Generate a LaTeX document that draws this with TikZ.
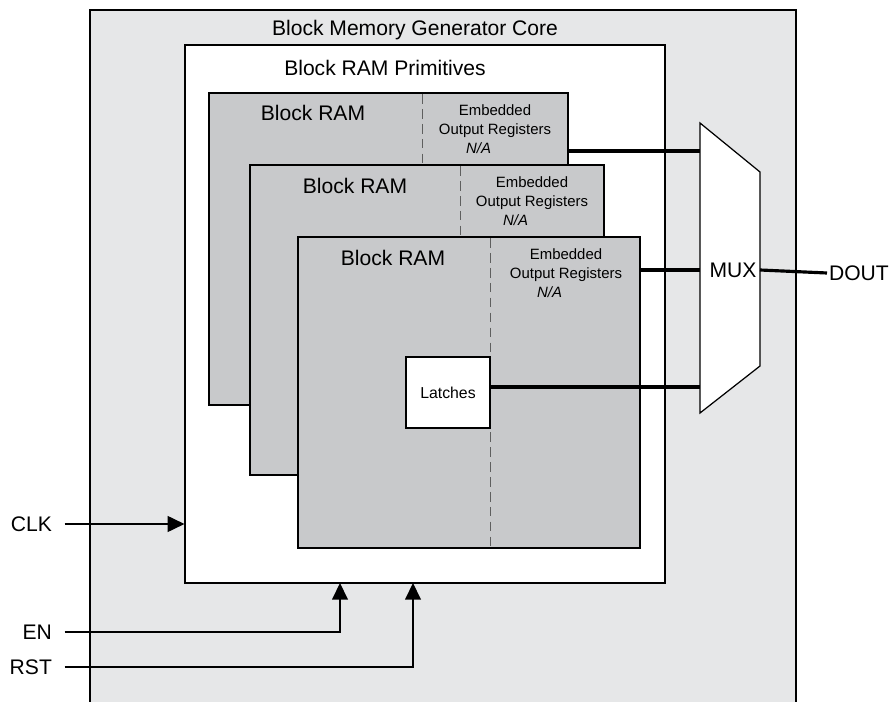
\documentclass[tikz,border=0pt]{standalone}
\usepackage{fontspec}
\setmainfont{Liberation Sans}
\usepackage{tikz}
\usetikzlibrary{
	positioning,
	arrows.meta,
	calc
}
\definecolor{CoreGray}{RGB}{230,231,232}
\definecolor{RamGray}{RGB}{200,201,203}
\definecolor{DashGray}{RGB}{95,95,95}

\begin{document}
\begin{tikzpicture}[
	x=0.02cm,
	y=-0.02cm,
	boxline/.style={
		draw=black,
		line width=0.7pt
	},
	rambox/.style={
		boxline,
		fill=RamGray,
		inner sep=0pt
	},
	splitline/.style={
		draw=DashGray,
		line width=0.5pt,
		dash pattern=on 5.5pt off 3pt
	},
	bigtext/.style={
		font=\fontsize{12}{14}\selectfont,
		inner sep=1pt
	},
	regtext/.style={
		font=\fontsize{8.5}{11}\selectfont,
		align=center,
		inner sep=0pt
	},
	bus/.style={
		line width=2pt
	},
	wire/.style={
		line width=0.8pt,
		-{Triangle[length=9.5pt,width=9pt]}
	}
	]
	
	\useasboundingbox (0,0) rectangle (893,702);
	
	% core
	\fill[CoreGray] (90,10) rectangle (796,702);
	\draw[boxline] (90,702) -- (90,10) -- (796,10) -- (796,702);
	\node[bigtext] (coretitle) at (415,30) {Block Memory Generator Core};
	
	% primitives
	\node[
	boxline,
	fill=white,
	minimum width=9.6cm,
	minimum height=10.76cm,
	inner sep=0pt
	] (prims) at (425,314) {};
	\node[bigtext] (primstitle) at (385,68) {Block RAM Primitives};
	
	% block rams
	\node[
	rambox,
	minimum width=7.18cm,
	minimum height=6.24cm
	] (ram1) at (388.5,249) {};
	\draw[splitline] (422,94) -- (422,404);
	\node[bigtext] (ram1lbl) at (313,113) {Block RAM};
	\node[regtext] (ram1reg) at (495,129) {Embedded\\Output Registers\\\textit{N/A}\hspace*{2.2em}};
	
	\node[
	rambox,
	minimum width=7.08cm,
	minimum height=6.2cm
	] (ram2) at (427,320) {};
	\draw[splitline] (460,166) -- (460,474);
	\node[bigtext] (ram2lbl) at (355,186) {Block RAM};
	\node[regtext] (ram2reg) at (532,201) {Embedded\\Output Registers\\\textit{N/A}\hspace*{2.2em}};
	
	\node[
	rambox,
	minimum width=6.84cm,
	minimum height=6.22cm
	] (ram3) at (469,392.5) {};
	\draw[splitline] (490,238) -- (490,547);
	\node[bigtext] (ram3lbl) at (393,258) {Block RAM};
	\node[regtext] (ram3reg) at (566,273) {Embedded\\Output Registers\\\textit{N/A}\hspace*{2.2em}};
	
	\node[
	boxline,
	fill=white,
	minimum width=1.68cm,
	minimum height=1.42cm,
	inner sep=0pt,
	font=\fontsize{9}{11}\selectfont
	] (latches) at (448,392.5) {Latches};
	
	% mux
	\coordinate (muxtl) at (700,123);
	\coordinate (muxbl) at (700,413);
	\coordinate (muxtr) at (760,172);
	\coordinate (muxbr) at (760,366);
	\draw[boxline,fill=white,line join=miter] (muxtl) -- (muxtr) -- (muxbr) -- (muxbl) -- cycle;
	\node[bigtext] (mux) at (733,270) {MUX};
	\coordinate (mux1) at (700,151);
	\coordinate (mux2) at (700,270);
	\coordinate (mux3) at (700,387);
	\coordinate (muxout) at (760,270);
	
	\draw[bus] (mux1 -| ram1.east) -- (mux1);
	\draw[bus] (mux2 -| ram3.east) -- (mux2);
	\draw[bus] (mux3 -| latches.east) -- (mux3);
	
	\node[bigtext,anchor=west] (dout) at (827,273) {DOUT};
	\draw[line width=1.8pt] (muxout) -- (dout.west);
	
	% inputs
	\node[bigtext,anchor=east] (clk) at (54,524) {CLK};
	\node[bigtext,anchor=east] (en) at (54,632) {EN};
	\node[bigtext,anchor=east] (rst) at (54,667) {RST};
	\coordinate (enin) at (340,583);
	\coordinate (rstin) at (413,583);
	
	\draw[wire] ([xshift=6pt]clk.east) -- (clk.east -| prims.west);
	\draw[wire] ([xshift=6pt]en.east) -| (enin);
	\draw[wire] ([xshift=6pt]rst.east) -| (rstin);
	
\end{tikzpicture}
\end{document}
